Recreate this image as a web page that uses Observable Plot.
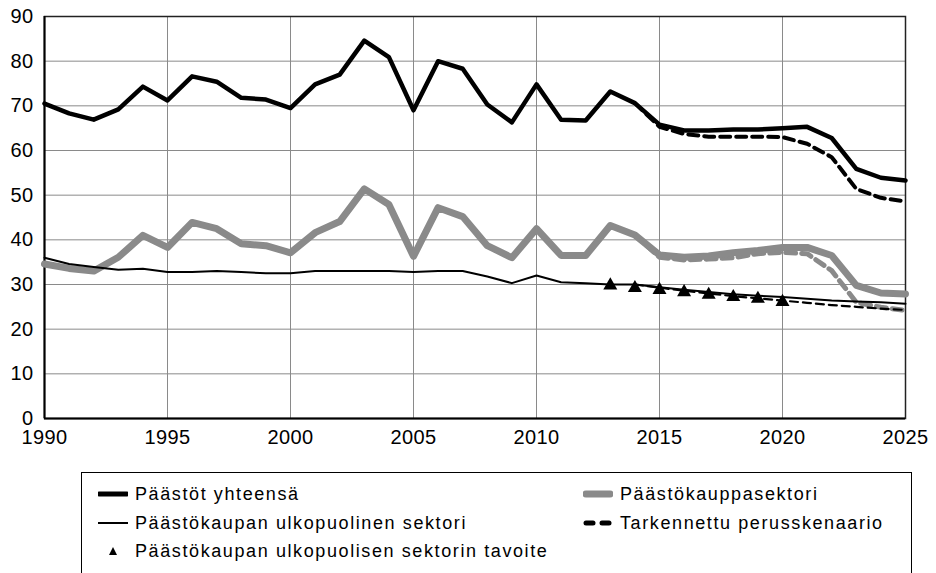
<!DOCTYPE html>
<html><head><meta charset="utf-8">
<script src="https://cdn.jsdelivr.net/npm/d3@7"></script>
<script src="https://cdn.jsdelivr.net/npm/@observablehq/plot@0.6"></script>
<style>
body{margin:0;background:#fff;font-family:"Liberation Sans",Arial,sans-serif;}
#wrap{position:relative;width:936px;height:573px;overflow:hidden;}
#legend{position:absolute;left:81px;top:472px;width:831px;height:130px;border:1px solid #000;box-sizing:border-box;}
.item{position:absolute;display:flex;align-items:center;font-size:18px;letter-spacing:1.6px;color:#000;white-space:nowrap;height:24px;}
.item svg{margin-right:7px;}
</style></head><body>
<div id="wrap"><div id="chart"></div><div id="legend"></div></div>
<script>
const years = [1990,1991,1992,1993,1994,1995,1996,1997,1998,1999,2000,2001,2002,2003,2004,2005,2006,2007,2008,2009,2010,2011,2012,2013,2014,2015,2016,2017,2018,2019,2020,2021,2022,2023,2024,2025];
const total = [70.5,68.3,66.9,69.2,74.3,71.2,76.6,75.4,71.8,71.4,69.5,74.8,77.0,84.6,80.9,69.0,80.0,78.3,70.3,66.3,74.8,66.9,66.7,73.2,70.6,65.8,64.5,64.5,64.7,64.7,65.0,65.3,62.8,55.9,53.9,53.3];
const ets = [34.6,33.6,33.0,36.1,41.0,38.3,43.9,42.5,39.1,38.7,37.1,41.6,44.1,51.4,47.9,36.3,47.2,45.2,38.7,36.0,42.5,36.5,36.5,43.2,41.1,36.6,36.1,36.4,37.1,37.6,38.3,38.3,36.5,29.8,28.1,27.9];
const nonEts = [36.0,34.6,33.9,33.3,33.5,32.8,32.8,33.0,32.8,32.5,32.5,33.0,33.0,33.0,33.0,32.8,33.0,33.0,31.8,30.3,32.0,30.5,30.3,30.0,30.0,29.4,28.8,28.3,27.8,27.5,27.2,26.8,26.4,26.2,26.0,25.7];

const scenYears = [2014,2015,2016,2017,2018,2019,2020,2021,2022,2023,2024,2025];
const scenTotal = [70.6,65.3,63.7,63.1,63.1,63.1,63.0,61.5,58.5,51.4,49.4,48.6];
const scenEts = [41.1,36.1,35.5,35.7,36.0,36.9,37.2,36.9,33.1,26.0,24.9,24.2];
const scenNonEts = [30.0,29.3,28.6,28.0,27.4,26.9,26.4,25.9,25.4,25.0,24.6,24.3];

const targetYears = [2013,2014,2015,2016,2017,2018,2019,2020];
const target = [29.8,29.2,28.8,28.3,27.7,27.2,26.8,26.1];

const xTicks = [1990,1995,2000,2005,2010,2015,2020,2025];
const yTicks = [0,10,20,30,40,50,60,70,80,90];

const labels = ["Päästöt yhteensä","Päästökauppasektori","Päästökaupan ulkopuolinen sektori","Tarkennettu perusskenaario","Päästökaupan ulkopuolisen sektorin tavoite"];

const rows = (xs, vs) => xs.map((x, i) => ({x, v: vs[i]}));
const dTotal = rows(years, total), dEts = rows(years, ets), dNon = rows(years, nonEts);
const sTotal = rows(scenYears, scenTotal), sEts = rows(scenYears, scenEts), sNon = rows(scenYears, scenNonEts);
const dTarget = rows(targetYears, target);

const chart = Plot.plot({
  width: 936, height: 460,
  marginLeft: 44, marginRight: 31, marginTop: 16, marginBottom: 42,
  style: "font-family:'Liberation Sans',Arial,sans-serif;font-size:20px;letter-spacing:0.4px;color:#000;background:#fff;overflow:visible",
  x: {domain: [1990, 2025], ticks: xTicks, tickFormat: d => String(d), tickSize: 0, tickPadding: 11, label: null},
  y: {domain: [0, 90], ticks: yTicks, tickSize: 0, tickPadding: 11, label: null},
  marks: [
    Plot.gridX(xTicks, {stroke: "#8a8a8a", strokeOpacity: 1, strokeWidth: 1}),
    Plot.gridY(yTicks, {stroke: "#8a8a8a", strokeOpacity: 1, strokeWidth: 1}),
    Plot.frame({stroke: "#222", strokeWidth: 1.5}),
    Plot.ruleY([0], {stroke: "#000", strokeWidth: 2}),
    Plot.ruleX([1990], {stroke: "#000", strokeWidth: 2}),
    Plot.line(sEts, {x: "x", y: "v", stroke: "#8a8a8a", strokeWidth: 5, strokeDasharray: "10,6", strokeLinecap: "round", strokeLinejoin: "round"}),
    Plot.line(dEts, {x: "x", y: "v", stroke: "#8a8a8a", strokeWidth: 7, strokeLinecap: "round", strokeLinejoin: "round"}),
    Plot.line(sNon, {x: "x", y: "v", stroke: "#000", strokeWidth: 2.2, strokeDasharray: "8,5"}),
    Plot.line(dNon, {x: "x", y: "v", stroke: "#000", strokeWidth: 2}),
    Plot.line(sTotal, {x: "x", y: "v", stroke: "#000", strokeWidth: 4, strokeDasharray: "10,6"}),
    Plot.line(dTotal, {x: "x", y: "v", stroke: "#000", strokeWidth: 4.5, strokeLinejoin: "round"}),
    Plot.dot(dTarget, {x: "x", y: "v", symbol: "triangle", r: 5.2, fill: "#000", stroke: "none"})
  ]
});
document.getElementById("chart").appendChild(chart);

const sample = (kind) => {
  const s = {
    thick: '<line x1="1" y1="6" x2="29" y2="6" stroke="#000" stroke-width="5" stroke-linecap="round"/>',
    grey: '<line x1="3" y1="6" x2="27" y2="6" stroke="#8a8a8a" stroke-width="7" stroke-linecap="round"/>',
    thin: '<line x1="0" y1="6" x2="30" y2="6" stroke="#000" stroke-width="2"/>',
    dash: '<line x1="3" y1="6" x2="10" y2="6" stroke="#000" stroke-width="5" stroke-linecap="round"/><line x1="19" y1="6" x2="26" y2="6" stroke="#000" stroke-width="5" stroke-linecap="round"/>',
    tri: '<path d="M15,2 L19,10 L11,10 Z" fill="#000"/>'
  }[kind];
  return `<svg width="30" height="12" viewBox="0 0 30 12">${s}</svg>`;
};
const items = [
  {label: labels[0], kind: "thick", left: 16, top: 9},
  {label: labels[1], kind: "grey", left: 501, top: 9},
  {label: labels[2], kind: "thin", left: 16, top: 38},
  {label: labels[3], kind: "dash", left: 501, top: 38},
  {label: labels[4], kind: "tri", left: 16, top: 66}
];
const leg = document.getElementById("legend");
for (const it of items) {
  const d = document.createElement("div");
  d.className = "item";
  d.style.left = it.left + "px";
  d.style.top = it.top + "px";
  d.innerHTML = sample(it.kind) + `<span>${it.label}</span>`;
  leg.appendChild(d);
}
</script>
</body></html>
